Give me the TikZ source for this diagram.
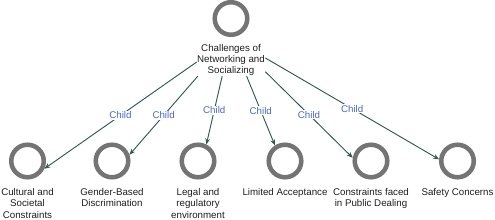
\documentclass[tikz,border=0pt]{standalone}
\usepackage{fontspec}
\setmainfont{Liberation Sans}
\usetikzlibrary{arrows.meta,positioning,fit,intersections}
\definecolor{ringgray}{HTML}{747474}
\definecolor{linkgreen}{HTML}{2F5A52}
\definecolor{tagblue}{HTML}{4A68C8}
\definecolor{inkdark}{HTML}{1E1E1E}
\tikzset{
  ring/.style={circle, draw=ringgray, line width=3.4pt, minimum size=24.4pt, inner sep=0pt},
  caption/.style={align=center, inner sep=0pt, text=inkdark, font=\fontsize{7.3}{8.5}\selectfont},
  hull/.style={inner sep=0pt},
  link/.style={-{Stealth[length=4.5pt, width=3.6pt]}, line width=0.7pt, draw=linkgreen},
  tag/.style={fill=white, inner sep=0.8pt, text=tagblue, font=\fontsize{7.3}{8.5}\selectfont}
}

\begin{document}
\begin{tikzpicture}[x=0.75pt, y=-0.75pt]
  \useasboundingbox (0,0) rectangle (495,220);
  \node[ring] (hub) at (231,18.5) {};
  \node[caption, below=5pt of hub] (hubtext) {Challenges of\\Networking and\\Socializing};
  \node[hull, fit=(hub)(hubtext)] (hubbox) {};
  \foreach \i/\x/\lab in {1/27.5/{Cultural and\\Societal\\Constraints}, 2/112/{Gender-Based\\Discrimination},
      3/198/{Legal and\\regulatory\\environment}, 4/285/{Limited Acceptance},
      5/371/{Constraints faced\\in Public Dealing}, 6/457.5/{Safety Concerns}} {
    \node[ring] (c\i) at (\x,161) {};
    \node[caption, below=6.5pt of c\i] (t\i) {\lab};
    \node[hull, fit=(c\i)(t\i)] (box\i) {};
    \path[name path=rim] (c\i.center) circle[radius=13.9pt];
    \path[name path=ray] (hubbox) -- (box\i.center);
    \draw[link, name intersections={of=ray and rim, sort by=ray}] (hubbox) -- (intersection-1)
      node[tag, midway] {Child};
  }
\end{tikzpicture}
\end{document}
